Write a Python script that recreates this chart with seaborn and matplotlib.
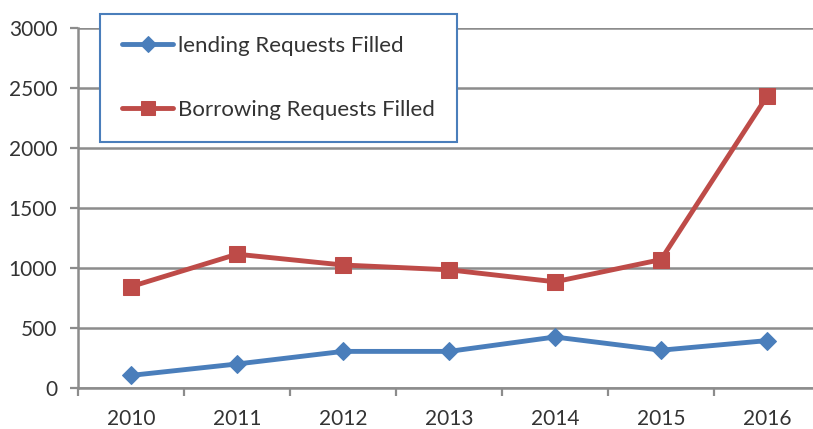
import matplotlib
matplotlib.use('Agg')
import matplotlib.pyplot as plt
import seaborn as sns
import pandas as pd
from matplotlib.ticker import FixedLocator, NullFormatter

sns.set_theme(style='white')
plt.rcParams['font.family'] = ['Lato', 'DejaVu Sans']

# Data
years = ['2010', '2011', '2012', '2013', '2014', '2015', '2016']
lending = [105, 200, 305, 305, 425, 315, 395]
borrowing = [845, 1115, 1025, 985, 885, 1070, 2430]

COLOR_BLUE = '#4A7EBB'
COLOR_RED = '#BE4B48'
COLOR_GRID = '#8C8C8C'
COLOR_TEXT = '#333333'

df = pd.DataFrame({'year': years, 'lending': lending, 'borrowing': borrowing})

fig = plt.figure(figsize=(8.13, 4.29), dpi=100)
ax = fig.add_axes([78 / 813, 1 - 388 / 429, 742 / 813, 360 / 429])

sns.lineplot(data=df, x='year', y='lending', ax=ax, color=COLOR_BLUE, lw=3.5,
             marker='D', markersize=9, markeredgecolor=COLOR_BLUE,
             label='lending Requests Filled')
sns.lineplot(data=df, x='year', y='borrowing', ax=ax, color=COLOR_RED, lw=3.5,
             marker='s', markersize=12, markeredgecolor=COLOR_RED,
             label='Borrowing Requests Filled')

ax.set_ylim(0, 3000)
ax.set_xlim(-0.5, len(years) - 0.5)
ax.set_yticks(range(0, 3001, 500))
ax.set_xlabel('')
ax.set_ylabel('')

# gridlines
ax.grid(True, axis='y', color=COLOR_GRID, lw=1.8)
ax.set_axisbelow(True)

for s in ['top', 'right']:
    ax.spines[s].set_visible(False)
ax.spines['left'].set_color(COLOR_GRID)
ax.spines['left'].set_linewidth(1.8)
ax.spines['bottom'].set_color(COLOR_GRID)
ax.spines['bottom'].set_linewidth(1.8)

# tick marks between categories on x
ax.xaxis.set_minor_locator(FixedLocator([i - 0.5 for i in range(len(years) + 1)]))
ax.xaxis.set_minor_formatter(NullFormatter())
ax.tick_params(axis='x', which='major', length=0, pad=15, labelsize=15, labelcolor=COLOR_TEXT)
ax.tick_params(axis='x', which='minor', bottom=True, length=6, width=1.6, color=COLOR_GRID)
ax.tick_params(axis='y', left=True, length=6, width=1.6, color=COLOR_GRID, pad=9,
               labelsize=15, labelcolor=COLOR_TEXT)

leg = ax.legend(loc='upper left', bbox_to_anchor=(100 / 813, 1 - 14 / 429),
                bbox_transform=fig.transFigure, fancybox=False, framealpha=1,
                edgecolor=COLOR_BLUE, fontsize=16, labelspacing=1.95,
                handlelength=2.3, handletextpad=0.2, borderpad=1.0,
                borderaxespad=0, markerscale=0.85)
leg.get_frame().set_linewidth(1.5)
for t in leg.get_texts():
    t.set_color(COLOR_TEXT)

fig.savefig('out.png', dpi=100)
